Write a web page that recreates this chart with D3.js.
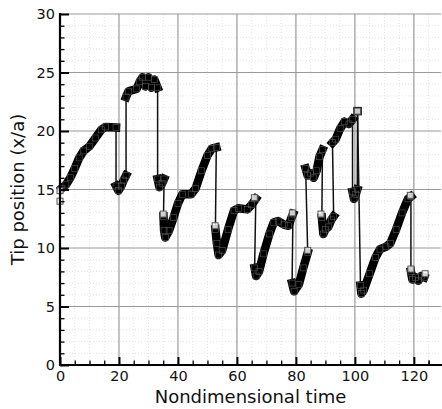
<!DOCTYPE html>
<html>
<head>
<meta charset="utf-8">
<script src="https://cdn.jsdelivr.net/npm/d3@7/dist/d3.min.js"></script>
<style>
  html, body { margin: 0; padding: 0; background: #fff; }
  svg { display: block; }
  text { font-family: "DejaVu Sans", sans-serif; fill: #111; }
</style>
</head>
<body>
<svg id="chart" width="442" height="409"></svg>
<script>
// ---- data: tip position vs nondimensional time ----
const xTicksMajor = [0, 20, 40, 60, 80, 100, 120];
const yTicksMajor = [0, 5, 10, 15, 20, 25, 30];
const xLabel = "Nondimensional time";
const yLabel = "Tip position (x/a)";

// continuous runs of the trajectory (time, tip position)
const runA = [[0.6,15.1],[2,15.4],[3.5,16.0],[5,16.8],[6.5,17.7],[8,18.3],[10,18.7],[12,19.4],[14,20.1],[15.5,20.35],[19,20.3]];
const runB = [[19,15.3],[19.8,14.9],[20.8,15.3],[21.6,15.8],[22.4,16.2]];
const runC = [[22.4,22.9],[23.2,23.4],[26,23.6],[27,24.2],[28,24.6],[29,23.8],[30,24.6],[31,23.7],[32,24.4],[33.1,23.7]];
const runD = [[33.1,15.9],[33.7,15.2],[34.6,15.5],[35.3,15.9]];
const runE = [[35.1,12.7],[35.3,11.5],[35.7,10.9],[37,11.5],[38.5,12.6],[40,13.8],[41.5,14.6],[44.5,14.6],[46,15.1],[48,16.6],[50,17.9],[51.5,18.5],[53,18.6]];
const runF = [[52.7,11.6],[53.2,10.4],[53.8,9.4],[55,9.8],[57,11.6],[59,13.2],[60.5,13.4],[63.5,13.3],[65,13.7],[66.4,14.2]];
const runG = [[66,8.3],[66.5,7.6],[67.5,8.0],[69,9.5],[71,11.2],[72.5,12.2],[74,12.3],[76,12.0],[77.5,11.9],[78.5,12.6],[79,12.9]];
const runH = [[78.7,7.0],[79.4,6.3],[81,6.9],[82.5,8.3],[84,9.6]];
const runI = [[83.3,16.8],[84,16.2],[85,16.4],[86,16.0],[87,16.6],[88,17.8],[89,18.4]];
const runJ = [[88.8,12.6],[89.3,11.2],[90,11.6],[91,11.8],[92,12.4],[92.8,12.7]];
const runK = [[92.4,19.0],[93.5,19.3],[95,20.2],[96.5,20.8],[98,20.6],[99.2,21.0]];
const runL = [[99.2,14.8],[99.7,14.2],[100.3,14.6],[100.8,15.0]];
const runM = [[100.9,21.7]];
const runN = [[101.9,6.8],[102.2,6.1],[103,6.4],[105,7.8],[107,9.2],[108.5,9.9],[110.5,10.1],[112,10.4],[114,11.6],[116,13.0],[118,14.2],[119,14.4]];
const runO = [[119,8.0],[119.5,7.3],[120.5,7.5],[121.5,7.2],[122.5,7.6],[123.5,7.5]];
const runs = [runA, runB, runC, runD, runE, runF, runG, runH, runI, runJ, runK, runL, runM, runN, runO];

// isolated hollow markers visible outside the dense band
const loneMarkers = [[0,14.0],[0,14.9],[35,12.9],[52.6,11.9],[65.9,14.3],[78.8,13.0],[84,9.8],[88.5,12.9],[100.9,21.7],[118.8,14.5],[119,8.2],[123.8,7.8]];

// ---- layout ----
const svg = d3.select("#chart");
const pL = 60, pR = 441, pT = 14, pB = 365;
const x = d3.scaleLinear().domain([0, 129.2]).range([pL, pR]);
const y = d3.scaleLinear().domain([0, 30]).range([pB, pT]);

// minor grid
const xMinor = d3.range(5, 129, 5).filter(v => v % 20 !== 0);
const yMinor = d3.range(1, 30, 1).filter(v => v % 5 !== 0);
const grid = svg.append("g");
grid.selectAll(".vmin").data(xMinor).join("line")
  .attr("x1", d => x(d)).attr("x2", d => x(d)).attr("y1", pT).attr("y2", pB)
  .attr("stroke", "#e4e4e4").attr("stroke-width", 1).attr("stroke-dasharray", "1,2");
grid.selectAll(".hmin").data(yMinor).join("line")
  .attr("x1", pL).attr("x2", pR).attr("y1", d => y(d)).attr("y2", d => y(d))
  .attr("stroke", "#e4e4e4").attr("stroke-width", 1).attr("stroke-dasharray", "1,2");
// major grid
grid.selectAll(".vmaj").data(xTicksMajor.filter(v => v > 0)).join("line")
  .attr("x1", d => x(d)).attr("x2", d => x(d)).attr("y1", pT).attr("y2", pB)
  .attr("stroke", "#9a9a9a").attr("stroke-width", 1.2);
grid.selectAll(".hmaj").data(yTicksMajor.filter(v => v > 0)).join("line")
  .attr("x1", pL).attr("x2", pR).attr("y1", d => y(d)).attr("y2", d => y(d))
  .attr("stroke", "#9a9a9a").attr("stroke-width", 1.2);

// ---- data marks ----
const line = d3.line().x(d => x(d[0])).y(d => y(d[1]));
const marks = svg.append("g");
const joins = runs.slice(1).map((r, i) => [runs[i][runs[i].length - 1], r[0]]);
marks.selectAll(".jump").data(joins).join("path")
  .attr("d", line).attr("fill", "none").attr("stroke", "#111").attr("stroke-width", 1.5);
marks.selectAll(".run").data(runs).join("path")
  .attr("d", line).attr("fill", "none").attr("stroke", "#000")
  .attr("stroke-width", 8.5).attr("stroke-linejoin", "round").attr("stroke-linecap", "square");
marks.selectAll(".vtx").data(runs.flat()).join("rect")
  .attr("x", d => x(d[0]) - 3).attr("y", d => y(d[1]) - 3)
  .attr("width", 6).attr("height", 6)
  .attr("fill", "none").attr("stroke", "#5a5a5a").attr("stroke-width", 0.6);
marks.selectAll(".lone").data(loneMarkers).join("rect")
  .attr("x", d => x(d[0]) - 3).attr("y", d => y(d[1]) - 3)
  .attr("width", 6).attr("height", 6)
  .attr("fill", "#fff").attr("fill-opacity", 0.8).attr("stroke", "#555").attr("stroke-width", 1);

// ---- axes ----
const gx = svg.append("g").attr("transform", `translate(0,${pB})`);
gx.call(d3.axisBottom(x).tickValues(xMinor.concat([125])).tickSize(-4.5).tickSizeOuter(0).tickFormat(""));
gx.selectAll(".tick line").attr("stroke", "#000").attr("stroke-width", 1.3);
const gx2 = svg.append("g").attr("transform", `translate(0,${pB})`);
gx2.call(d3.axisBottom(x).tickValues(xTicksMajor).tickSize(-8).tickSizeOuter(0).tickPadding(6).tickFormat(d3.format("d")));
gx2.selectAll(".tick line").attr("stroke", "#000").attr("stroke-width", 2);
gx2.selectAll(".tick text").attr("font-size", 14.5).attr("font-family", "DejaVu Sans").attr("fill", "#111");

const gy = svg.append("g").attr("transform", `translate(${pL},0)`);
gy.call(d3.axisLeft(y).tickValues(yMinor).tickSize(-4.5).tickSizeOuter(0).tickFormat(""));
gy.selectAll(".tick line").attr("stroke", "#000").attr("stroke-width", 1.3);
const gy2 = svg.append("g").attr("transform", `translate(${pL},0)`);
gy2.call(d3.axisLeft(y).tickValues(yTicksMajor).tickSize(-9).tickSizeOuter(0).tickPadding(5).tickFormat(d3.format("d")));
gy2.selectAll(".tick line").attr("stroke", "#000").attr("stroke-width", 2);
gy2.selectAll(".tick text").attr("font-size", 14.5).attr("font-family", "DejaVu Sans").attr("fill", "#111");
svg.selectAll(".domain").remove();

svg.append("line").attr("x1", pL).attr("x2", pL).attr("y1", pT - 1).attr("y2", pB + 1)
  .attr("stroke", "#000").attr("stroke-width", 2.2);
svg.append("line").attr("x1", pL - 1).attr("x2", pR + 1).attr("y1", pB).attr("y2", pB)
  .attr("stroke", "#000").attr("stroke-width", 2.2);

svg.append("text").attr("x", (pL + pR) / 2).attr("y", 403)
  .attr("text-anchor", "middle").attr("font-size", 18).text(xLabel);
svg.append("text").attr("transform", `translate(24,${(pT + pB) / 2}) rotate(-90)`)
  .attr("text-anchor", "middle").attr("font-size", 18).text(yLabel);
</script>
</body>
</html>
